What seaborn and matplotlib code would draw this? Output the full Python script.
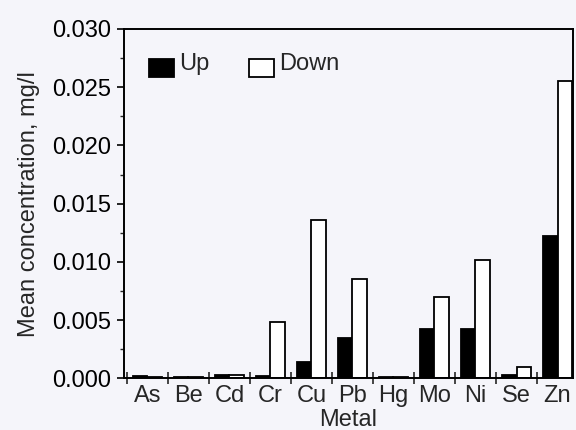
import numpy as np
import pandas as pd
import matplotlib
matplotlib.use("Agg")
import matplotlib.pyplot as plt
import matplotlib.patches as mpatches
from matplotlib.legend_handler import HandlerPatch
import seaborn as sns
from matplotlib.ticker import MultipleLocator, FixedLocator, NullFormatter

# Mean metal concentrations (mg/l), upstream vs downstream
metals = ["As", "Be", "Cd", "Cr", "Cu", "Pb", "Hg", "Mo", "Ni", "Se", "Zn"]
up_vals = [0.0002, 0.0001, 0.0003, 0.0002, 0.00137, 0.0035, 0.0001, 0.0042, 0.0042, 0.0003, 0.0122]
down_vals = [0.0001, 0.0001, 0.0003, 0.0048, 0.0136, 0.0085, 0.0001, 0.0070, 0.0102, 0.00095, 0.0255]
series = ["Up", "Down"]

df = pd.DataFrame({
    "Metal": metals * 2,
    "Site": [series[0]] * len(metals) + [series[1]] * len(metals),
    "Concentration": up_vals + down_vals,
})

sns.set_style("ticks")
plt.rcParams["font.family"] = ["Liberation Sans", "DejaVu Sans"]
plt.rcParams["font.size"] = 17

bg = "#f5f5fa"
fs = 17
fig = plt.figure(figsize=(5.76, 4.30), dpi=100, facecolor=bg)
ax = fig.add_axes([0.215, 0.1202, 0.780, 0.8124])
ax.set_facecolor(bg)

sns.barplot(
    data=df, x="Metal", y="Concentration", hue="Site",
    order=metals, hue_order=series,
    palette={"Up": "black", "Down": "white"},
    width=0.7, gap=0, edgecolor="black", linewidth=1.3,
    errorbar=None, ax=ax, legend=True,
)

for side in ["left", "right", "top", "bottom"]:
    ax.spines[side].set_visible(True)
    ax.spines[side].set_linewidth(1.4)
    ax.spines[side].set_color("black")

ax.set_ylim(0, 0.030)
ax.set_xlim(-0.573, 10.38)
ax.yaxis.set_major_locator(MultipleLocator(0.005))
ax.yaxis.set_minor_locator(MultipleLocator(0.0025))
ax.set_yticklabels([f"{v:.3f}" for v in ax.get_yticks()])
ax.tick_params(axis="y", which="major", direction="out", length=5, width=1.2,
               labelsize=fs, pad=4, colors="black")
ax.tick_params(axis="y", which="minor", direction="out", length=3, width=1.0)

# category labels at bar-group centres, tick marks on the group boundaries
ax.tick_params(axis="x", which="major", length=0, labelsize=fs, pad=5)
ax.xaxis.set_minor_locator(FixedLocator(np.arange(-0.5, len(metals) - 0.5, 1.0)))
ax.xaxis.set_minor_formatter(NullFormatter())
ax.tick_params(axis="x", which="minor", direction="inout", length=9, width=1.2)

ax.set_xlabel("Metal", fontsize=fs, labelpad=1)
ax.set_ylabel("Mean concentration, mg/l", fontsize=fs, labelpad=9)


def lowered_box(legend, orig_handle, xdescent, ydescent, width, height, fontsize):
    # legend swatch sitting a little below the label text
    return mpatches.Rectangle((-xdescent, -ydescent - 0.35 * height), width, height)


handles, labels = ax.get_legend_handles_labels()
ax.legend(handles, labels, loc="center left", bbox_to_anchor=(0.02, 0.90),
          ncol=2, frameon=False, fontsize=fs, handlelength=1.05, handleheight=0.8,
          handletextpad=0.2, columnspacing=1.7, borderpad=0.2,
          handler_map={mpatches.Rectangle: HandlerPatch(patch_func=lowered_box)})

fig.savefig("out.png", dpi=100, facecolor=bg)
